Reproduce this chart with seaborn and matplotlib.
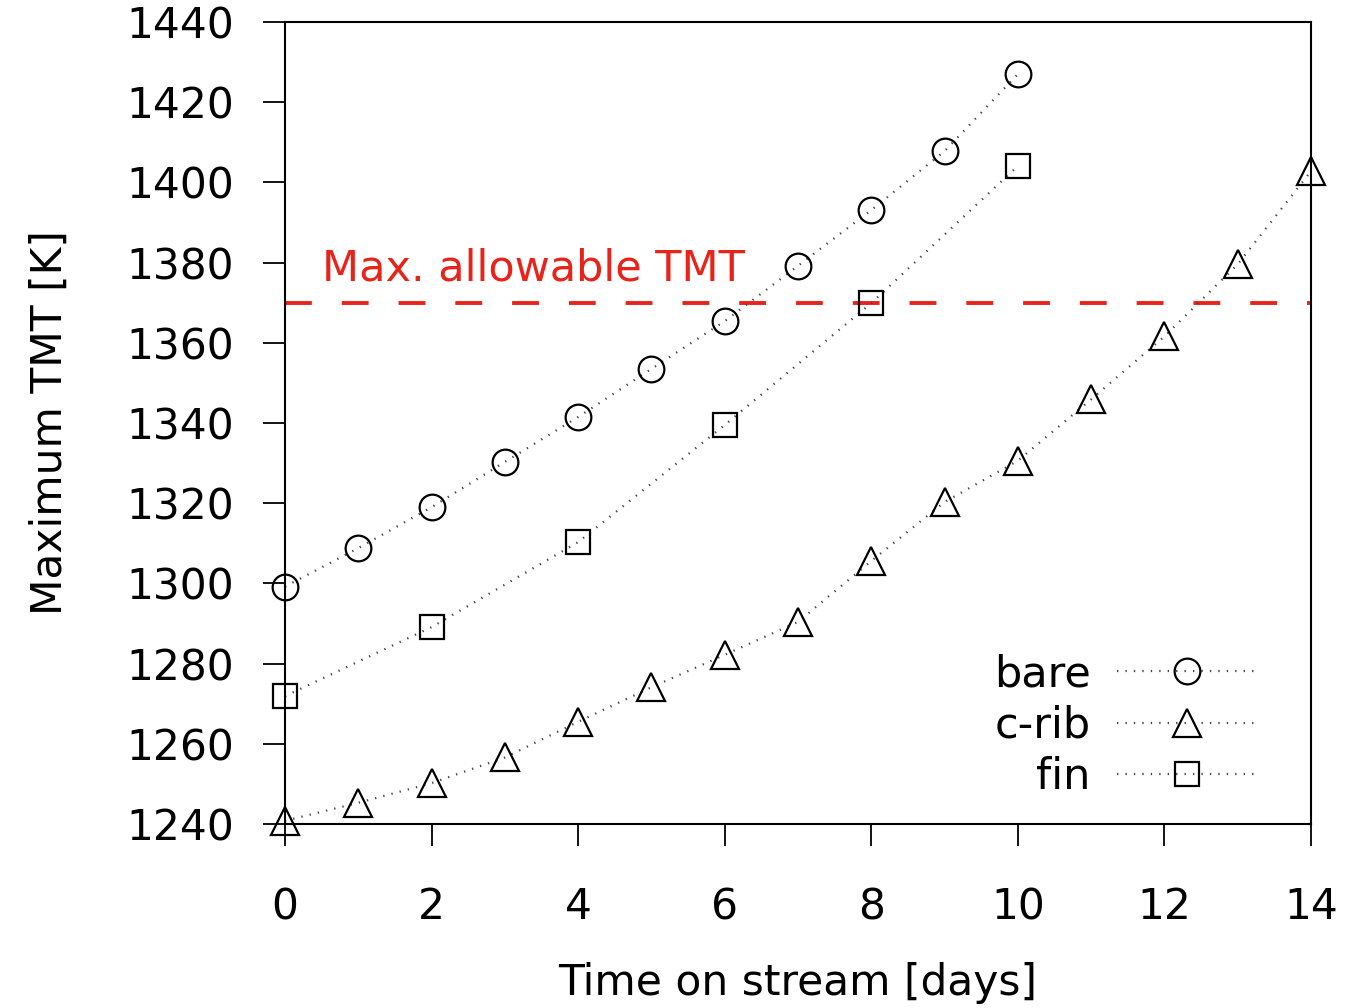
import matplotlib
matplotlib.use("Agg")
import matplotlib.pyplot as plt
import seaborn as sns
import pandas as pd

# Data
days_bare = [0, 1, 2, 3, 4, 5, 6, 7, 8, 9, 10]
tmt_bare = [1299.2, 1308.8, 1319.0, 1330.3, 1341.5, 1353.5, 1365.4, 1379.2, 1393.1, 1407.8, 1427.0]

days_crib = [0, 1, 2, 3, 4, 5, 6, 7, 8, 9, 10, 11, 12, 13, 14]
tmt_crib = [1240.8, 1245.3, 1250.2, 1256.6, 1265.5, 1274.1, 1282.2, 1290.4, 1305.6, 1320.3, 1330.6, 1345.9, 1361.6, 1379.6, 1402.8]

days_fin = [0, 2, 4, 6, 8, 10]
tmt_fin = [1271.9, 1289.1, 1310.3, 1339.5, 1369.9, 1404.1]

max_allowable = 1370
limit_label = "Max. allowable TMT"
x_ticks = [0, 2, 4, 6, 8, 10, 12, 14]
y_ticks = [1240, 1260, 1280, 1300, 1320, 1340, 1360, 1380, 1400, 1420, 1440]

sns.set_style("white")
plt.rcParams['font.family'] = ['DejaVu Sans']
plt.rcParams['text.color'] = 'black'
plt.rcParams['axes.labelcolor'] = 'black'
FS = 30.5

fig = plt.figure(figsize=(13.48, 10.08), dpi=100)
ax = fig.add_axes([0.2114, 0.1825, 0.9726 - 0.2114, 0.9782 - 0.1825])

series = [
    ("bare", days_bare, tmt_bare, "o", 18.5),
    ("c-rib", days_crib, tmt_crib, "^", 19.5),
    ("fin", days_fin, tmt_fin, "s", 17.5),
]
for name, xs, ys, mk, ms in series:
    df = pd.DataFrame({"day": xs, "tmt": ys})
    sns.lineplot(data=df, x="day", y="tmt", ax=ax, label=name,
                 color="#444444", linestyle=(0, (0.6, 3.2)), linewidth=1.6,
                 marker=mk, markersize=ms, markerfacecolor="none",
                 markeredgecolor="black", markeredgewidth=1.6, clip_on=False)

ax.axhline(max_allowable, color="#e8231a", linewidth=2.8,
           dashes=(6.9, 7.7), zorder=1)
ax.text(0.5, max_allowable + 3.2, limit_label, color="#e8231a",
        fontsize=31, ha="left", va="bottom")

ax.set_xlim(0, 14)
ax.set_ylim(1240, 1440)
ax.set_xticks(x_ticks)
ax.set_yticks(y_ticks)
ax.tick_params(axis="both", direction="out", length=15.8, width=1.3,
               color="black", labelsize=FS, labelcolor="black")
ax.tick_params(axis="x", pad=29)
ax.tick_params(axis="y", pad=21)
ax.tick_params(top=False, right=False, bottom=True, left=True)
for sp in ax.spines.values():
    sp.set_visible(True)
    sp.set_color("black")
    sp.set_linewidth(1.5)

ax.set_xlabel("Time on stream [days]", fontsize=FS, labelpad=24, color="black")
ax.set_ylabel("Maximum TMT [K]", fontsize=FS, labelpad=40, color="black")

leg = ax.legend(loc="lower right", frameon=False, fontsize=31,
                markerfirst=False, handlelength=3.25, handletextpad=0.6,
                labelspacing=0.22, borderaxespad=0.2,
                bbox_to_anchor=(0.972, 0.0), labelcolor="black")

fig.savefig("out.png", dpi=100)
